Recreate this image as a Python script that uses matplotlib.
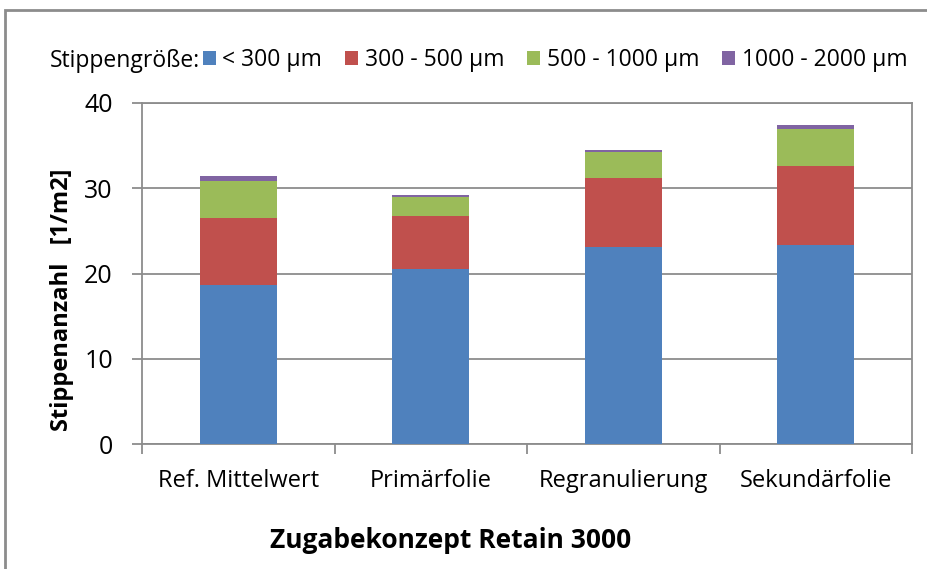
import numpy as np
import matplotlib.pyplot as plt
from matplotlib.patches import Rectangle

plt.rcParams['font.family'] = ['Open Sans', 'DejaVu Sans']

# Daten
kategorien = ['Ref. Mittelwert', 'Primärfolie', 'Regranulierung', 'Sekundärfolie']
klassen = ['< 300 µm', '300 - 500 µm', '500 - 1000 µm', '1000 - 2000 µm']
unter_300 = [18.65, 20.5, 23.05, 23.3]
von_300_500 = [7.85, 6.3, 8.1, 9.35]
von_500_1000 = [4.35, 2.2, 3.15, 4.35]
von_1000_2000 = [0.6, 0.25, 0.2, 0.4]
farben = ['#4f81bd', '#c0504d', '#9bbb59', '#8064a2']

fig = plt.figure(figsize=(9.27, 5.69), dpi=100)
ax = fig.add_axes([142/927, 1-444/569, 770/927, 341/569])

x = np.arange(len(kategorien))
unten = np.zeros(len(kategorien))
for werte, farbe, name in zip([unter_300, von_300_500, von_500_1000, von_1000_2000], farben, klassen):
    ax.bar(x, werte, 0.4, bottom=unten, color=farbe, label=name, zorder=3)
    unten += np.array(werte)

ax.set_xlim(-0.5, 3.5)
ax.set_ylim(0, 40)
ax.set_yticks([0, 10, 20, 30, 40])
ax.yaxis.grid(True, color='#8c8c8c', linewidth=1.3, zorder=0)
for s in ax.spines.values():
    s.set_color('#8c8c8c')
    s.set_linewidth(1.3)
ax.set_xticks(x)
ax.set_xticklabels(kategorien)
ax.set_xticks(np.arange(-0.5, 4, 1), minor=True)
ax.tick_params(axis='x', which='major', length=0, pad=18, labelsize=17)
ax.tick_params(axis='x', which='minor', length=7, color='#8c8c8c', width=1.3)
ax.tick_params(axis='y', length=7, color='#8c8c8c', width=1.3, labelsize=18, pad=14)

fig.text(62/927, 1-300/569, 'Stippenanzahl   [1/m2]', rotation=90, ha='center', va='center',
         fontsize=17, fontweight='bold')
fig.text(451/927, 1-540/569, 'Zugabekonzept Retain 3000', ha='center', va='center',
         fontsize=19, fontweight='bold')

fig.text(50/927, 1-61/569, 'Stippengröße:', ha='left', va='center', fontsize=16.5)
fig.legend(loc='center left', bbox_to_anchor=(203/927, 1-60/569), ncol=4, frameon=False,
           fontsize=16.5, handlelength=0.55, handleheight=0.55, handletextpad=0.3,
           columnspacing=1.0, borderaxespad=0, borderpad=0)

# Rahmen des Diagramms
fig.patches.append(Rectangle((5/927, -0.1), 1.2, 1-10/569+0.1, transform=fig.transFigure,
                             fill=False, edgecolor='#8c8c8c', linewidth=2))

fig.savefig('out.png', dpi=100)
